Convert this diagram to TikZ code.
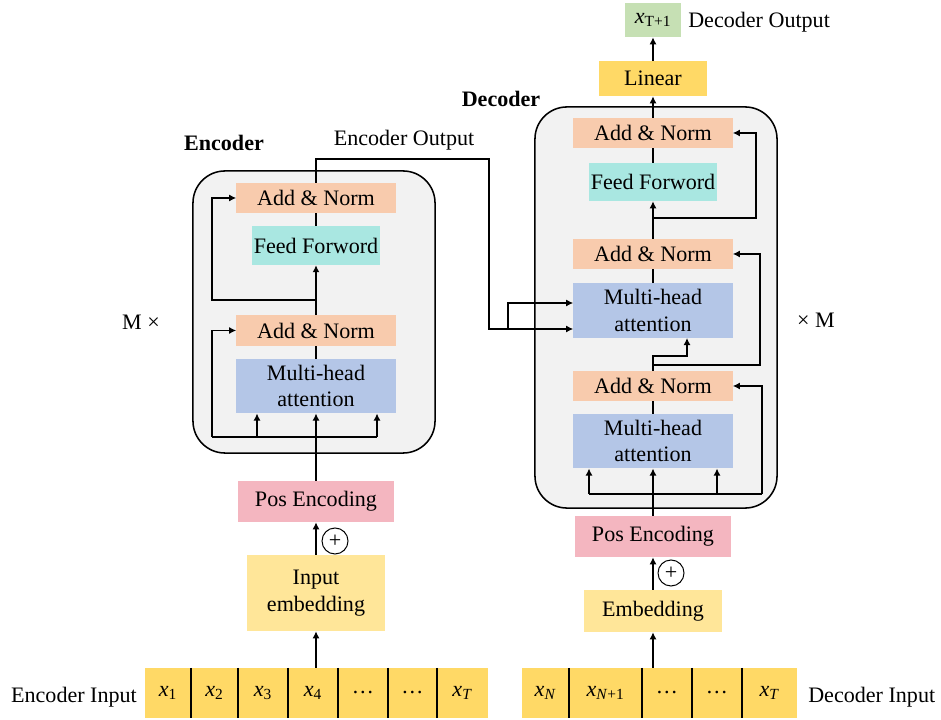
\documentclass[tikz,border=0pt]{standalone}
\usepackage{fontspec}
\setmainfont{Liberation Serif}
\usetikzlibrary{arrows.meta}
\definecolor{addc}{HTML}{F8CBAD}
\definecolor{ffc}{HTML}{A9E7E1}
\definecolor{mhac}{HTML}{B4C6E7}
\definecolor{posc}{HTML}{F4B6C0}
\definecolor{embc}{HTML}{FFE699}
\definecolor{goldc}{HTML}{FFD966}
\definecolor{outc}{HTML}{C6E0B4}
\definecolor{stackc}{HTML}{F2F2F2}
\newcommand{\xsub}[1]{\textit{x}\textsubscript{#1}}
\tikzstyle{stack}=[rectangle, rounded corners=0.8cm, draw, line width=1.1pt, fill=stackc]
\tikzstyle{addnorm}=[rectangle, inner sep=0pt, fill=addc, minimum width=3.975cm, minimum height=0.75cm]
\tikzstyle{ff}=[rectangle, inner sep=0pt, fill=ffc, minimum width=3.2cm, minimum height=0.97cm]
\tikzstyle{mha}=[rectangle, inner sep=0pt, fill=mhac, align=center, minimum width=3.975cm, minimum height=1.36cm]
\tikzstyle{posenc}=[rectangle, inner sep=0pt, fill=posc, minimum width=3.9cm, minimum height=1.025cm]
\tikzstyle{emb}=[rectangle, inner sep=0pt, fill=embc, align=center]
\tikzstyle{lin}=[rectangle, inner sep=0pt, fill=goldc, minimum width=2.675cm, minimum height=0.875cm]
\tikzstyle{res}=[rectangle, inner sep=0pt, fill=outc, minimum width=1.4cm, minimum height=0.85cm]
\tikzstyle{cell}=[rectangle, inner sep=0pt, outer sep=0pt, fill=goldc, minimum height=1.25cm]
\tikzstyle{plus}=[circle, draw, line width=0.7pt, inner sep=0pt, minimum size=0.65cm]
\tikzstyle{title}=[inner sep=0pt, font=\fontsize{15.7}{19}\selectfont\bfseries]
\tikzstyle{edge}=[-{Latex[length=5pt,width=5pt]}, line width=1.1pt]
\tikzstyle{wire}=[-, line width=1.1pt]
\tikzstyle{divider}=[-, line width=0.9pt]

\begin{document}
\begin{tikzpicture}[x=0.025cm, y=-0.025cm, font=\fontsize{15.7}{19}\selectfont]
	\useasboundingbox (0,0) rectangle (941,720);

	%The encoder stack
	\draw (314,312) node[stack, minimum width=6.05cm, minimum height=7.05cm] (encbox) {};
	\draw (224,143) node[title] (enclabel) {Encoder};
	\draw (316,198) node[addnorm] (eAN2) {Add \& Norm};
	\draw (316,245.5) node[ff] (eFF) {Feed Forword};
	\draw (316,330.5) node[addnorm] (eAN1) {Add \& Norm};
	\draw (316,386) node[mha] (eMHA) {Multi-head\\attention};
	\draw (141,322) node (encrep) {M ×};

	%The encoder input side
	\draw (316,501.5) node[posenc] (ePos) {Pos Encoding};
	\draw (335,541) node[plus] (ePlus) {+};
	\draw (316,593) node[emb, minimum width=3.45cm, minimum height=1.9cm] (eEmb) {Input\\embedding};

	%The encoder input sequence
	\draw (74,697) node (encin) {Encoder Input};
	\draw (168,693) node[cell, minimum width=1.15cm] (in1) {\xsub{1}};
	\draw (214.5,693) node[cell, minimum width=1.175cm] (in2) {\xsub{2}};
	\draw (263,693) node[cell, minimum width=1.25cm] (in3) {\xsub{3}};
	\draw (313,693) node[cell, minimum width=1.25cm] (in4) {\xsub{4}};
	\draw (363,693) node[cell, minimum width=1.25cm] (in5) {\ldots};
	\draw (412.5,693) node[cell, minimum width=1.225cm] (in6) {\ldots};
	\draw (462.5,693) node[cell, minimum width=1.275cm] (in7) {\xsub{\textit{T}}};
	\draw[divider] (in1.north east) -- (in1.south east);
	\draw[divider] (in2.north east) -- (in2.south east);
	\draw[divider] (in3.north east) -- (in3.south east);
	\draw[divider] (in4.north east) -- (in4.south east);
	\draw[divider] (in5.north east) -- (in5.south east);
	\draw[divider] (in6.north east) -- (in6.south east);

	%The decoder stack
	\draw (656,307.5) node[stack, minimum width=6.05cm, minimum height=10.025cm] (decbox) {};
	\draw (501,99) node[title] (declabel) {Decoder};
	\draw (653,133) node[addnorm] (dAN3) {Add \& Norm};
	\draw (653,182) node[ff, minimum height=0.95cm] (dFF) {Feed Forword};
	\draw (653,254) node[addnorm] (dAN2) {Add \& Norm};
	\draw (653,310.5) node[mha] (dMHA2) {Multi-head\\attention};
	\draw (653,386) node[addnorm] (dAN1) {Add \& Norm};
	\draw (653,441) node[mha] (dMHA1) {Multi-head\\attention};
	\draw (816,320) node (decrep) {× M};

	%The decoder output
	\draw (653,78.5) node[lin] (linear) {Linear};
	\draw (653,20) node[res] (xout) {\xsub{T+1}};
	\draw (688,22) node[anchor=west, inner sep=0pt] (decout) {Decoder Output};

	%The decoder input side
	\draw (653,536.5) node[posenc] (dPos) {Pos Encoding};
	\draw (671,573) node[plus] (dPlus) {+};
	\draw (653,611) node[emb, minimum width=3.425cm, minimum height=1.05cm] (dEmb) {Embedding};

	%The decoder input sequence
	\draw (808,697) node[anchor=west, inner sep=0pt] (decin) {Decoder Input};
	\draw (545.5,693) node[cell, minimum width=1.175cm] (dn1) {\xsub{\textit{N}}};
	\draw (605.5,693) node[cell, minimum width=1.825cm] (dn2) {\xsub{\textit{N}+1}};
	\draw (667,693) node[cell, minimum width=1.25cm] (dn3) {\ldots};
	\draw (717,693) node[cell, minimum width=1.25cm] (dn4) {\ldots};
	\draw (769.5,693) node[cell, minimum width=1.375cm] (dn5) {\xsub{\textit{T}}};
	\draw[divider] (dn1.north east) -- (dn1.south east);
	\draw[divider] (dn2.north east) -- (dn2.south east);
	\draw[divider] (dn3.north east) -- (dn3.south east);
	\draw[divider] (dn4.north east) -- (dn4.south east);

	%Encoder connections
	\draw[edge] (eEmb.south |- in4.north) -- (eEmb.south);
	\draw[edge] (eEmb.north) -- (ePos.south);
	\draw[edge] (ePos.north) -- (eMHA.south);
	\coordinate (ebl) at (212,437);
	\coordinate (ebm) at (257,437);
	\coordinate (ebr) at (377,437);
	\draw[wire] (ebl) -- (ebr);
	\draw[edge] (ebl) |- (eAN1.west);
	\draw[edge] (ebm) -- (ebm |- eMHA.south);
	\draw[edge] (ebr) -- (ebr |- eMHA.south);
	\draw[wire] (eMHA.north) -- (eAN1.south);
	\draw[edge] (eAN1.north) -- (eFF.south);
	\coordinate (ejl) at (212,300);
	\draw[edge] (eAN1.north |- ejl) -- (ejl) |- (eAN2.west);
	\draw[wire] (eFF.north) -- (eAN2.south);

	%Encoder output into the decoder
	\draw (404,140) node (encout) {Encoder Output};
	\coordinate (eo1) at (316,159);
	\coordinate (eo2) at (489,159);
	\coordinate (eo3) at (489,329);
	\coordinate (eo4) at (508,329);
	\coordinate (eo5) at (508,303);
	\draw[edge] (eAN2.north) -- (eo1) -- (eo2) -- (eo3) -- (eo3 -| dMHA2.west);
	\draw[edge] (eo4) -- (eo5) -- (eo5 -| dMHA2.west);

	%Decoder connections
	\draw[edge] (dEmb.south |- dn3.north) -- (dEmb.south);
	\draw[edge] (dEmb.north) -- (dPos.south);
	\draw[edge] (dPos.north) -- (dMHA1.south);
	\coordinate (dbl) at (589,494);
	\coordinate (dbm) at (717,494);
	\coordinate (dbr) at (762,494);
	\draw[wire] (dbl) -- (dbr);
	\draw[edge] (dbl) -- (dbl |- dMHA1.south);
	\draw[edge] (dbm) -- (dbm |- dMHA1.south);
	\draw[edge] (dbr) |- (dAN1.east);
	\draw[wire] (dMHA1.north) -- (dAN1.south);
	\coordinate (dj1t) at (687,356);
	\coordinate (dj1r) at (760,365);
	\draw[edge] (dAN1.north) |- (dj1t) -- (dj1t |- dMHA2.south);
	\draw[edge] (dAN1.north |- dj1r) -- (dj1r) |- (dAN2.east);
	\draw[wire] (dMHA2.north) -- (dAN2.south);
	\draw[edge] (dAN2.north) -- (dFF.south);
	\coordinate (dj2r) at (756,218);
	\draw[edge] (dAN2.north |- dj2r) -- (dj2r) |- (dAN3.east);
	\draw[wire] (dFF.north) -- (dAN3.south);
	\draw[edge] (dAN3.north) -- (linear.south);
	\draw[edge] (linear.north) -- (xout.south);
\end{tikzpicture}
\end{document}
